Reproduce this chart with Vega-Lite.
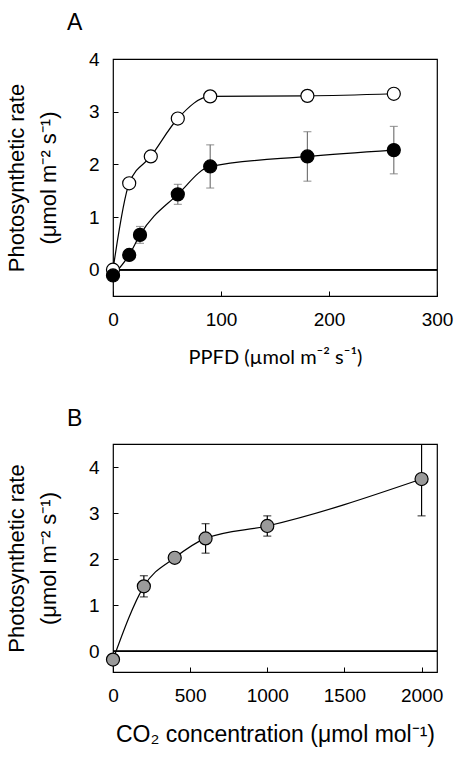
{
  "$schema": "https://vega.github.io/schema/vega-lite/v6.json",
  "background": "white",
  "padding": {"left": 4, "top": 11, "right": 10, "bottom": 4},
  "spacing": 39,
  "config": {
    "view": {"stroke": "black", "strokeWidth": 1.2},
    "font": "Liberation Sans",
    "axis": {
      "grid": false,
      "domain": false,
      "ticks": true,
      "tickColor": "black",
      "tickSize": -5,
      "labelFontSize": 19,
      "labelColor": "black",
      "labelPadding": 19,
      "labelFlush": false,
      "format": "d",
      "titleFontSize": 22,
      "titleFontWeight": "normal",
      "titleColor": "black",
      "titleLineHeight": 32
    },
    "title": {"fontSize": 23, "fontWeight": "normal", "anchor": "start", "frame": "group", "color": "black"}
  },
  "vconcat": [
    {
      "width": 324,
      "height": 237,
      "title": {"text": "A", "dx": -46, "offset": 15},
      "data": {
        "values": [
          {"ppfd": 0, "rate": 0.0, "sd": 0, "group": "open"},
          {"ppfd": 15, "rate": 1.64, "sd": 0, "group": "open"},
          {"ppfd": 35, "rate": 2.15, "sd": 0, "group": "open"},
          {"ppfd": 60, "rate": 2.87, "sd": 0, "group": "open"},
          {"ppfd": 90, "rate": 3.29, "sd": 0, "group": "open"},
          {"ppfd": 180, "rate": 3.3, "sd": 0, "group": "open"},
          {"ppfd": 260, "rate": 3.34, "sd": 0, "group": "open"},
          {"ppfd": 0, "rate": -0.11, "sd": 0, "group": "filled"},
          {"ppfd": 15, "rate": 0.28, "sd": 0.05, "group": "filled"},
          {"ppfd": 25, "rate": 0.66, "sd": 0.16, "group": "filled"},
          {"ppfd": 60, "rate": 1.43, "sd": 0.19, "group": "filled"},
          {"ppfd": 90, "rate": 1.96, "sd": 0.41, "group": "filled"},
          {"ppfd": 180, "rate": 2.15, "sd": 0.47, "group": "filled"},
          {"ppfd": 260, "rate": 2.27, "sd": 0.45, "group": "filled"}
        ]
      },
      "encoding": {
        "x": {
          "field": "ppfd",
          "type": "quantitative",
          "scale": {"domain": [0, 300], "nice": false, "zero": false},
          "axis": {
            "values": [0, 100, 200, 300],
            "title": "PPFD (µmol m⁻² s⁻¹)",
            "titleFont": "Lato",
            "titleFontSize": 20,
            "titlePadding": 18
          }
        },
        "y": {
          "field": "rate",
          "type": "quantitative",
          "scale": {"domain": [-0.5, 4], "nice": false, "zero": false},
          "axis": {
            "values": [0, 1, 2, 3, 4],
            "title": ["Photosynthetic rate", "(μmol m⁻² s⁻¹)"],
            "titlePadding": 28
          }
        }
      },
      "layer": [
        {
          "mark": {"type": "rule", "color": "black", "strokeWidth": 1},
          "encoding": {"x": {"value": 0}, "x2": {"value": 324}, "y": {"datum": 0, "type": "quantitative"}}
        },
        {
          "transform": [{"filter": "datum.sd > 0"}],
          "mark": {"type": "errorbar", "color": "#777777", "ticks": {"size": 8}, "thickness": 1.2},
          "encoding": {"yError": {"field": "sd"}}
        },
        {
          "mark": {"type": "line", "interpolate": "monotone", "color": "black", "strokeWidth": 1.2},
          "encoding": {"detail": {"field": "group"}}
        },
        {
          "mark": {"type": "point", "filled": true, "size": 170, "stroke": "black", "strokeWidth": 1.2, "opacity": 1},
          "encoding": {
            "fill": {
              "field": "group",
              "type": "nominal",
              "scale": {"domain": ["open", "filled"], "range": ["white", "black"]},
              "legend": null
            }
          }
        }
      ]
    },
    {
      "width": 324,
      "height": 228,
      "title": {"text": "B", "dx": -46, "offset": 13},
      "data": {
        "values": [
          {"co2": 0, "rate": -0.18, "sd": 0},
          {"co2": 200, "rate": 1.41, "sd": 0.23},
          {"co2": 400, "rate": 2.03, "sd": 0},
          {"co2": 600, "rate": 2.45, "sd": 0.32},
          {"co2": 1000, "rate": 2.72, "sd": 0.22},
          {"co2": 2000, "rate": 3.74, "sd": 0.8}
        ]
      },
      "encoding": {
        "x": {
          "field": "co2",
          "type": "quantitative",
          "scale": {"domain": [0, 2100], "nice": false, "zero": false},
          "axis": {
            "values": [0, 500, 1000, 1500, 2000],
            "title": "CO₂ concentration (μmol mol⁻¹)",
            "titleFontSize": 23,
            "titlePadding": 18
          }
        },
        "y": {
          "field": "rate",
          "type": "quantitative",
          "scale": {"domain": [-0.45, 4.5], "nice": false, "zero": false},
          "axis": {
            "values": [0, 1, 2, 3, 4],
            "title": ["Photosynthetic rate", "(μmol m⁻² s⁻¹)"],
            "titlePadding": 28
          }
        }
      },
      "layer": [
        {
          "mark": {"type": "rule", "color": "black", "strokeWidth": 1},
          "encoding": {"x": {"value": 0}, "x2": {"value": 324}, "y": {"datum": 0, "type": "quantitative"}}
        },
        {
          "transform": [{"filter": "datum.sd > 0"}],
          "mark": {"type": "errorbar", "color": "black", "ticks": {"size": 8}, "thickness": 1.2, "clip": true},
          "encoding": {"yError": {"field": "sd"}}
        },
        {
          "mark": {"type": "line", "interpolate": "monotone", "color": "black", "strokeWidth": 1.2}
        },
        {
          "mark": {"type": "point", "filled": true, "size": 170, "fill": "#9a9a9a", "stroke": "black", "strokeWidth": 1.2, "opacity": 1}
        }
      ]
    }
  ]
}
